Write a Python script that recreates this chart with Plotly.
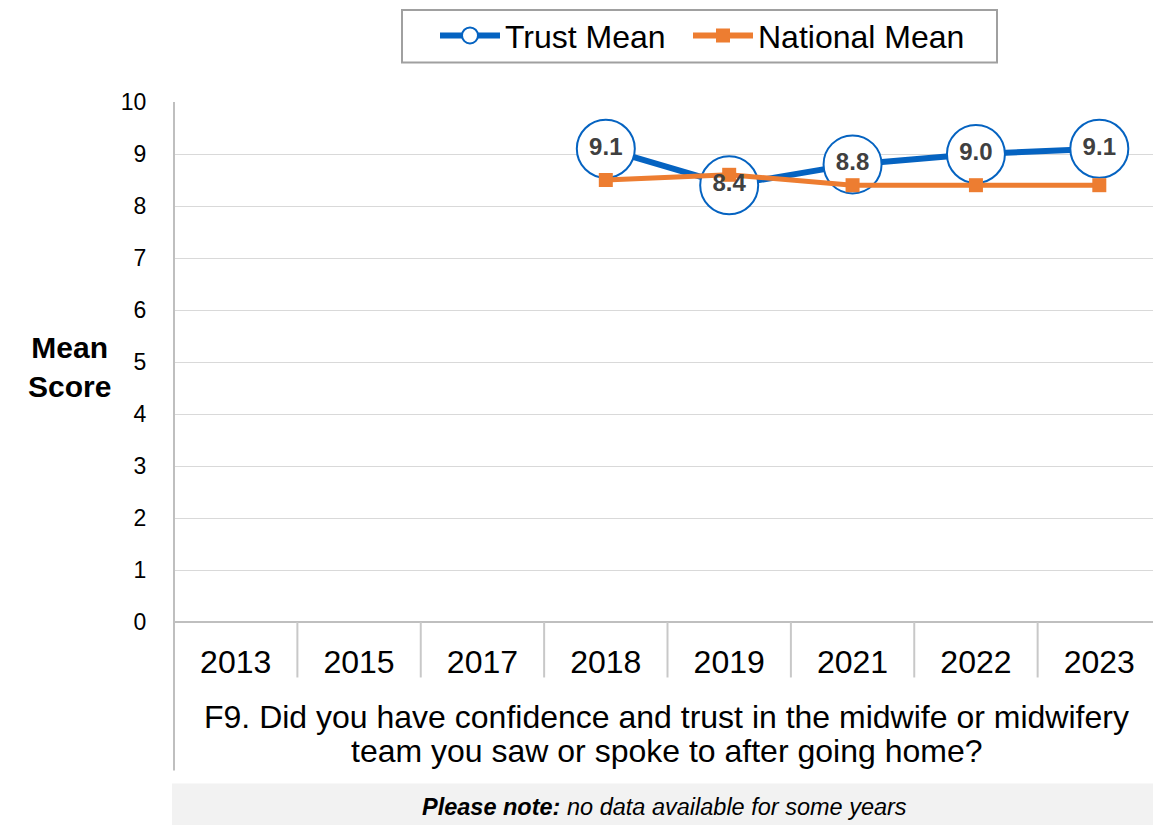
import plotly.graph_objects as go

years = ["2013", "2015", "2017", "2018", "2019", "2021", "2022", "2023"]
trust_mean = [None, None, None, 9.1, 8.4, 8.8, 9.0, 9.1]
national_mean = [None, None, None, 8.5, 8.6, 8.4, 8.4, 8.4]
y_ticks = list(range(0, 11))

FONT = "Liberation Sans, Arial, sans-serif"
BLUE = "#0563C1"
ORANGE = "#ED7D31"

# page geometry: body has an 8px margin, figure sized so the page fits the window
PW = 979.0   # plot-area width in px
PH = 525.0   # plot-area height in px

def px_x(p):
    return (p - 174) / PW

def px_y(p):
    return (622 - p) / PH

xpos = list(range(len(years)))
labels = [f"{v:.1f}" if v is not None else "" for v in trust_mean]

fig = go.Figure()
fig.add_trace(go.Scatter(
    x=xpos, y=trust_mean, mode="lines+markers", showlegend=False,
    line=dict(color=BLUE, width=6),
    marker=dict(symbol="circle", size=58, color="white", line=dict(color=BLUE, width=2)),
    hoverinfo="skip", connectgaps=False,
))
fig.add_trace(go.Scatter(
    x=xpos, y=national_mean, mode="lines+markers", showlegend=False,
    line=dict(color=ORANGE, width=5),
    marker=dict(symbol="square", size=14, color=ORANGE),
    hoverinfo="skip",
))
fig.add_trace(go.Scatter(
    x=xpos, y=trust_mean, mode="text", text=labels, showlegend=False,
    textfont=dict(family=FONT, size=24, color="#404040", weight="bold"),
    textposition="middle center", hoverinfo="skip",
))
# legend entries
fig.add_trace(go.Scatter(
    x=[None], y=[None], mode="lines+markers", name="Trust Mean", legend="legend",
    line=dict(color=BLUE, width=6),
    marker=dict(symbol="circle", size=18, color="white", line=dict(color=BLUE, width=2)),
))
fig.add_trace(go.Scatter(
    x=[None], y=[None], mode="lines+markers", name="National Mean", legend="legend2",
    line=dict(color=ORANGE, width=6),
    marker=dict(symbol="square", size=14, color=ORANGE),
))

shapes = []
for i in range(len(years) - 1):
    shapes.append(dict(type="line", xref="x", yref="paper", x0=i + 0.5, x1=i + 0.5,
                       y0=0, y1=px_y(678), line=dict(color="#c8c8c8", width=2)))
shapes.append(dict(type="line", xref="paper", yref="paper", x0=0, x1=0,
                   y0=1, y1=px_y(772), line=dict(color="#bfbfbf", width=2)))
shapes.append(dict(type="rect", xref="paper", yref="paper", x0=px_x(172), x1=1.0,
                   y0=px_y(785), y1=px_y(833), fillcolor="#f2f2f2", line=dict(width=0), layer="below"))
shapes.append(dict(type="rect", xref="paper", yref="paper", x0=px_x(402), x1=px_x(997),
                   y0=px_y(57), y1=px_y(4), fillcolor="white", line=dict(color="#a0a0a0", width=2),
                   layer="below"))

legend_common = dict(
    orientation="h", xanchor="left", y=px_y(30), yanchor="middle",
    borderwidth=0, bgcolor="rgba(0,0,0,0)",
    font=dict(family=FONT, size=32, color="black"),
    itemwidth=60,
)

fig.update_layout(
    width=1145, height=817,
    margin=dict(l=166, r=0, t=89, b=203, pad=0),
    plot_bgcolor="white", paper_bgcolor="white",
    font=dict(family=FONT, color="black"),
    shapes=shapes,
    showlegend=True,
    legend=dict(x=px_x(435), **legend_common),
    legend2=dict(x=px_x(688), **legend_common),
    xaxis=dict(
        range=[-0.5, -0.5 + PW / 123.375], tickvals=xpos, ticktext=years,
        showgrid=False, zeroline=False, showline=False,
        ticks="outside", ticklen=12, tickcolor="rgba(0,0,0,0)",
        tickfont=dict(family=FONT, size=32, color="black"), fixedrange=True,
    ),
    yaxis=dict(
        range=[0, 10], tickvals=y_ticks, showgrid=True, gridcolor="#d9d9d9", gridwidth=1,
        zeroline=True, zerolinecolor="#bfbfbf", zerolinewidth=2,
        showline=False,
        ticks="outside", ticklen=22, tickcolor="rgba(0,0,0,0)",
        tickfont=dict(family=FONT, size=23, color="black"), fixedrange=True,
    ),
    annotations=[
        dict(text="<b>Mean<br>Score</b>", xref="paper", yref="paper",
             x=px_x(69), y=px_y(365), xanchor="center", yanchor="middle", showarrow=False,
             font=dict(family=FONT, size=30, color="black")),
        dict(text="F9. Did you have confidence and trust in the midwife or midwifery",
             xref="paper", yref="paper", x=px_x(666), y=px_y(718), xanchor="center", yanchor="middle",
             showarrow=False, font=dict(family=FONT, size=32, color="black")),
        dict(text="team you saw or spoke to after going home?",
             xref="paper", yref="paper", x=px_x(666), y=px_y(752), xanchor="center", yanchor="middle",
             showarrow=False, font=dict(family=FONT, size=32, color="black")),
        dict(text="<b><i>Please note:</i></b><i> no data available for some years</i>",
             xref="paper", yref="paper", x=px_x(664), y=px_y(809), xanchor="center", yanchor="middle",
             showarrow=False, font=dict(family=FONT, size=23.5, color="black")),
    ],
)

fig.write_html("out.html")
